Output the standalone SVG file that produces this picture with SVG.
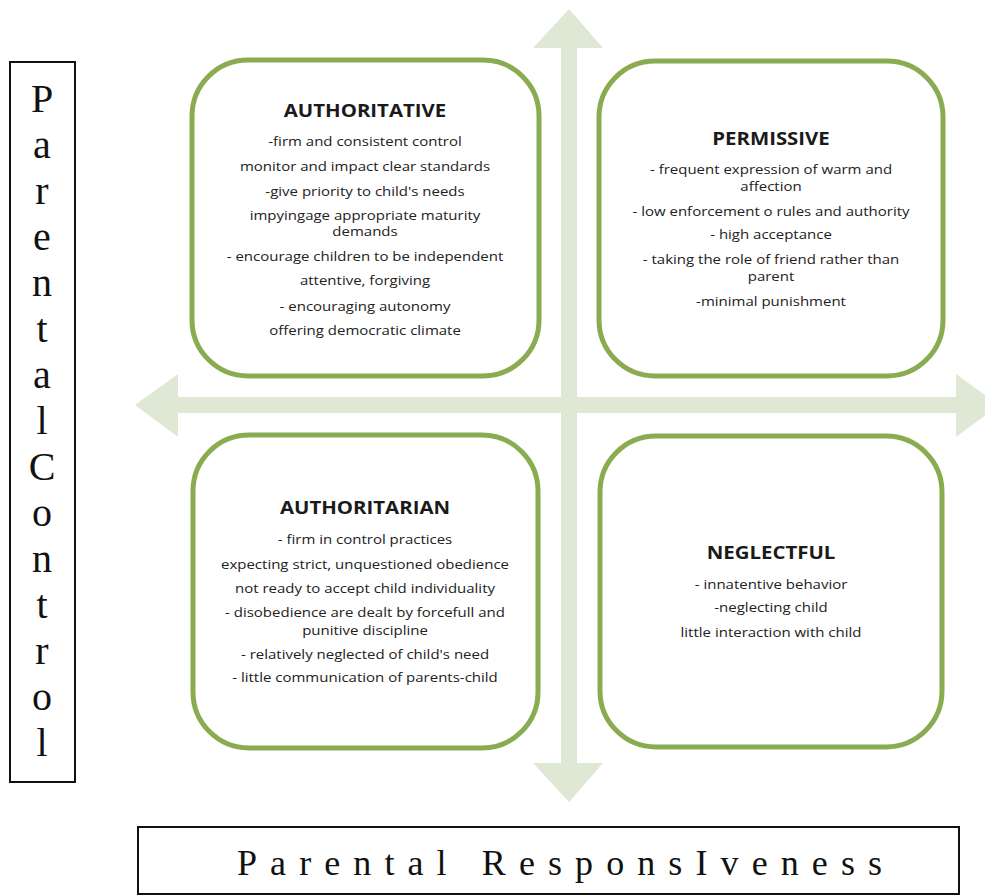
<svg xmlns="http://www.w3.org/2000/svg" width="985" height="896" viewBox="0 0 985 896">
<style>
.box{fill:#fff;stroke:#8aab50;stroke-width:5}
.axis{fill:#dfe8d4}
.ttl{font-family:"Open Sans","Liberation Sans",sans-serif;font-weight:bold;font-size:17px;fill:#1a1a1a;text-anchor:middle}
.bd{font-family:"Open Sans","Liberation Sans",sans-serif;font-size:12.5px;fill:#222;text-anchor:middle}
.lbl{fill:#fff;stroke:#111;stroke-width:2}
.ser{font-family:"Liberation Serif","Times New Roman",serif;fill:#111}
</style>
<rect width="985" height="896" fill="#fff"/>
<g id="connectors">
<polygon class="axis" points="569,9 603,48 577,48 577,763 603,763 569,802 533,763 561,763 561,48 533,48"/>
<polygon class="axis" points="135,405 178,374 178,397 956,397 956,374 999,405 956,437 956,413 178,413 178,437"/>
</g>
<g id="authoritative">
<rect class="box" x="192" y="60" width="347" height="316" rx="56"/>
<g transform="translate(365 0) scale(1.2 1)">
<text class="ttl" x="0" y="117">AUTHORITATIVE</text>
<text class="bd" x="0" y="146">-firm and consistent control</text>
<text class="bd" x="0" y="171">monitor and impact clear standards</text>
<text class="bd" x="0" y="196">-give priority to child's needs</text>
<text class="bd" x="0" y="220">impyingage appropriate maturity</text>
<text class="bd" x="0" y="236">demands</text>
<text class="bd" x="0" y="261">- encourage children to be independent</text>
<text class="bd" x="0" y="285">attentive, forgiving</text>
<text class="bd" x="0" y="311">- encouraging autonomy</text>
<text class="bd" x="0" y="335">offering democratic climate</text>
</g>
</g>
<g id="permissive">
<rect class="box" x="599" y="61" width="344" height="315" rx="56"/>
<g transform="translate(771 0) scale(1.2 1)">
<text class="ttl" x="0" y="145">PERMISSIVE</text>
<text class="bd" x="0" y="174">- frequent expression of warm and</text>
<text class="bd" x="0" y="191">affection</text>
<text class="bd" x="0" y="216">- low enforcement o rules and authority</text>
<text class="bd" x="0" y="239">- high acceptance</text>
<text class="bd" x="0" y="264">- taking the role of friend rather than</text>
<text class="bd" x="0" y="281">parent</text>
<text class="bd" x="0" y="306">-minimal punishment</text>
</g>
</g>
<g id="authoritarian">
<rect class="box" x="193" y="435" width="345" height="313" rx="56"/>
<g transform="translate(365 0) scale(1.2 1)">
<text class="ttl" x="0" y="514">AUTHORITARIAN</text>
<text class="bd" x="0" y="544">- firm in control practices</text>
<text class="bd" x="0" y="569">expecting strict, unquestioned obedience</text>
<text class="bd" x="0" y="593">not ready to accept child individuality</text>
<text class="bd" x="0" y="617">- disobedience are dealt by forcefull and</text>
<text class="bd" x="0" y="635">punitive discipline</text>
<text class="bd" x="0" y="659">- relatively neglected of child's need</text>
<text class="bd" x="0" y="682">- little communication of parents-child</text>
</g>
</g>
<g id="neglectful">
<rect class="box" x="600" y="436" width="342" height="311" rx="56"/>
<g transform="translate(771 0) scale(1.2 1)">
<text class="ttl" x="0" y="559">NEGLECTFUL</text>
<text class="bd" x="0" y="589">- innatentive behavior</text>
<text class="bd" x="0" y="612">-neglecting child</text>
<text class="bd" x="0" y="637">little interaction with child</text>
</g>
</g>
<g id="parental-control">
<rect class="lbl" x="10" y="62" width="65" height="720"/>
<g class="ser" font-size="40" text-anchor="middle">
<text x="42" y="112">P</text>
<text x="42" y="158">a</text>
<text x="42" y="204">r</text>
<text x="42" y="250">e</text>
<text x="42" y="296">n</text>
<text x="42" y="342">t</text>
<text x="42" y="388">a</text>
<text x="42" y="434">l</text>
<text x="42" y="480">C</text>
<text x="42" y="526">o</text>
<text x="42" y="572">n</text>
<text x="42" y="618">t</text>
<text x="42" y="664">r</text>
<text x="42" y="710">o</text>
<text x="42" y="756">l</text>
</g>
</g>
<g id="parental-responsiveness">
<rect class="lbl" x="138" y="827" width="821" height="67"/>
<text class="ser" x="237" y="875" font-size="36" textLength="645" lengthAdjust="spacing">Parental ResponsIveness</text>
</g>
</svg>
